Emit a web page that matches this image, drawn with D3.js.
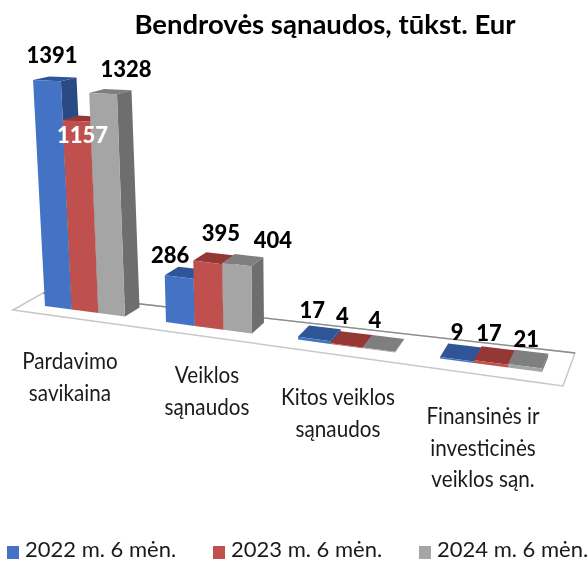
<!DOCTYPE html>
<html>
<head>
<meta charset="utf-8">
<script src="https://cdn.jsdelivr.net/npm/d3@7"></script>
<style>
  html, body { margin: 0; padding: 0; background: #fff; }
  svg { display: block; font-family: Lato, "Open Sans", sans-serif; filter: blur(0.4px); }
</style>
</head>
<body>
<div id="chart"></div>
<script>
const chartTitle = 'Bendrovės sąnaudos, tūkst. Eur';
const categories = [
  ['Pardavimo', 'savikaina'],
  ['Veiklos', 'sąnaudos'],
  ['Kitos veiklos', 'sąnaudos'],
  ['Finansinės ir', 'investicinės', 'veiklos sąn.']
];
const seriesNames = ['2022 m. 6 mėn.', '2023 m. 6 mėn.', '2024 m. 6 mėn.'];
const values2022 = [1391, 286, 17, 9];
const values2023 = [1157, 395, 4, 17];
const values2024 = [1328, 404, 4, 21];
const seriesValues = [values2022, values2023, values2024];

const front = ['#4472c4', '#c0504d', '#a5a5a5'];
const topFace = ['#2f5597', '#953735', '#7f7f7f'];
const sideFace = ['#2a4a85', '#8a3331', '#6e6e6e'];

const width = 588;
const height = 561;

const svg = d3.select('#chart').append('svg')
  .attr('width', width)
  .attr('height', height);

// bar edges run along the floor, spacing grows a bit to the right (perspective)
const xEdge = d3.scaleLinear()
  .domain([0, 3, 4.5, 7.5, 9, 12, 13.5, 16.5])
  .range([45, 125, 166, 252, 298, 395, 440, 542]);
const yFront = d3.scaleLinear().domain([45, 542]).range([306, 372]);
const hScale = d3.scaleLinear().domain([0, 1391]).range([0, 226]);

// p = position along the floor, d = depth 0..1, v = value
const project = (p, d, v) => {
  const bx = xEdge(p);
  const h0 = hScale(v);
  const h = h0 * (1 + (bx - 45) * 0.0004 * h0 / 226);
  const lean = (bx - 296) * 0.00021 * h;
  const dx = (17 - bx * 0.02) * d;
  const dy = -(9 + (bx - 125) * 0.0145) * (1 - h * 0.0025) * d;
  return [bx + lean + dx, yFront(bx) - h + dy];
};

const poly = (pts) => pts.map(p => p.join(',')).join(' ');

// floor
const floor = [[13, 310], [43, 293], [575, 353], [563, 386]];
svg.append('polygon')
  .attr('points', poly(floor))
  .attr('fill', '#fff')
  .attr('stroke', '#c8c8c8')
  .attr('stroke-width', 1.5);
svg.append('line')
  .attr('x1', floor[1][0]).attr('y1', floor[1][1])
  .attr('x2', floor[2][0]).attr('y2', floor[2][1])
  .attr('stroke', '#8c8c8c')
  .attr('stroke-width', 1.3);

// bars, painted left to right so each one hides the side of the one before
const bars = [];
categories.forEach((c, g) => {
  seriesNames.forEach((s, i) => {
    bars.push({ g, i, v: seriesValues[i][g], p: g * 4.5 + i });
  });
});

const bar = svg.selectAll('.bar')
  .data(bars)
  .enter().append('g')
  .attr('class', 'bar');

bar.append('polygon')
  .attr('fill', d => sideFace[d.i])
  .attr('points', d => poly([
    project(d.p + 1, 0, 0), project(d.p + 1, 1, 0),
    project(d.p + 1, 1, d.v), project(d.p + 1, 0, d.v)
  ]));
bar.append('polygon')
  .attr('fill', d => topFace[d.i])
  .attr('points', d => poly([
    project(d.p, 0, d.v), project(d.p, 1, d.v),
    project(d.p + 1, 1, d.v), project(d.p + 1, 0, d.v)
  ]));
bar.append('polygon')
  .attr('fill', d => front[d.i])
  .attr('points', d => poly([
    project(d.p, 0, 0), project(d.p + 1, 0, 0),
    project(d.p + 1, 0, d.v), project(d.p, 0, d.v)
  ]));

// value labels sit where the original placed them, relative to the bar top
const labelShift = [
  [5, -26], [6, 14], [23, -25],
  [-9, -22], [13, -30], [36, -25],
  [-2, -29], [-4, -30], [-4, -30],
  [0, -28], [-2, -30], [1, -28]
];
svg.selectAll('.value')
  .data(bars)
  .enter().append('text')
  .attr('class', 'value')
  .attr('text-anchor', 'middle')
  .attr('dominant-baseline', 'central')
  .attr('font-size', 22)
  .attr('font-weight', 900)
  .attr('fill', d => d.v === 1157 ? '#fff' : '#000')
  .attr('x', (d, i) => project(d.p + 0.5, 0, d.v)[0] + labelShift[i][0])
  .attr('y', (d, i) => project(d.p + 0.5, 0, d.v)[1] + labelShift[i][1])
  .text(d => d.v);

// category labels, one text per line, squeezed like the narrow original font
const catCenter = [70, 207, 338, 483];
const catTop = [362, 376, 398, 417];
const catLines = categories.flatMap((lines, i) =>
  lines.map((t, j) => ({ t, x: catCenter[i], y: catTop[i] + j * 31.5 + 7 })));
svg.selectAll('.cat')
  .data(catLines)
  .enter().append('text')
  .attr('class', 'cat')
  .attr('text-anchor', 'middle')
  .attr('font-size', 22.5)
  .attr('fill', '#1a1a1a')
  .attr('transform', d => `translate(${d.x},${d.y}) scale(0.92,1)`)
  .text(d => d.t);

svg.append('text')
  .attr('x', 325)
  .attr('y', 34)
  .attr('text-anchor', 'middle')
  .attr('font-size', 27.5)
  .attr('font-weight', 700)
  .attr('fill', '#000')
  .text(chartTitle);

// legend
const legendX = d3.scaleOrdinal().domain(seriesNames).range([7, 213, 419]);
const legend = svg.selectAll('.legend')
  .data(seriesNames)
  .enter().append('g')
  .attr('class', 'legend')
  .attr('transform', d => `translate(${legendX(d)},546)`);
legend.append('rect')
  .attr('width', 12)
  .attr('height', 13)
  .attr('fill', (d, i) => front[i]);
legend.append('text')
  .attr('x', 18)
  .attr('y', 11)
  .attr('font-size', 22)
  .attr('fill', '#1a1a1a')
  .text(d => d);
</script>
</body>
</html>
